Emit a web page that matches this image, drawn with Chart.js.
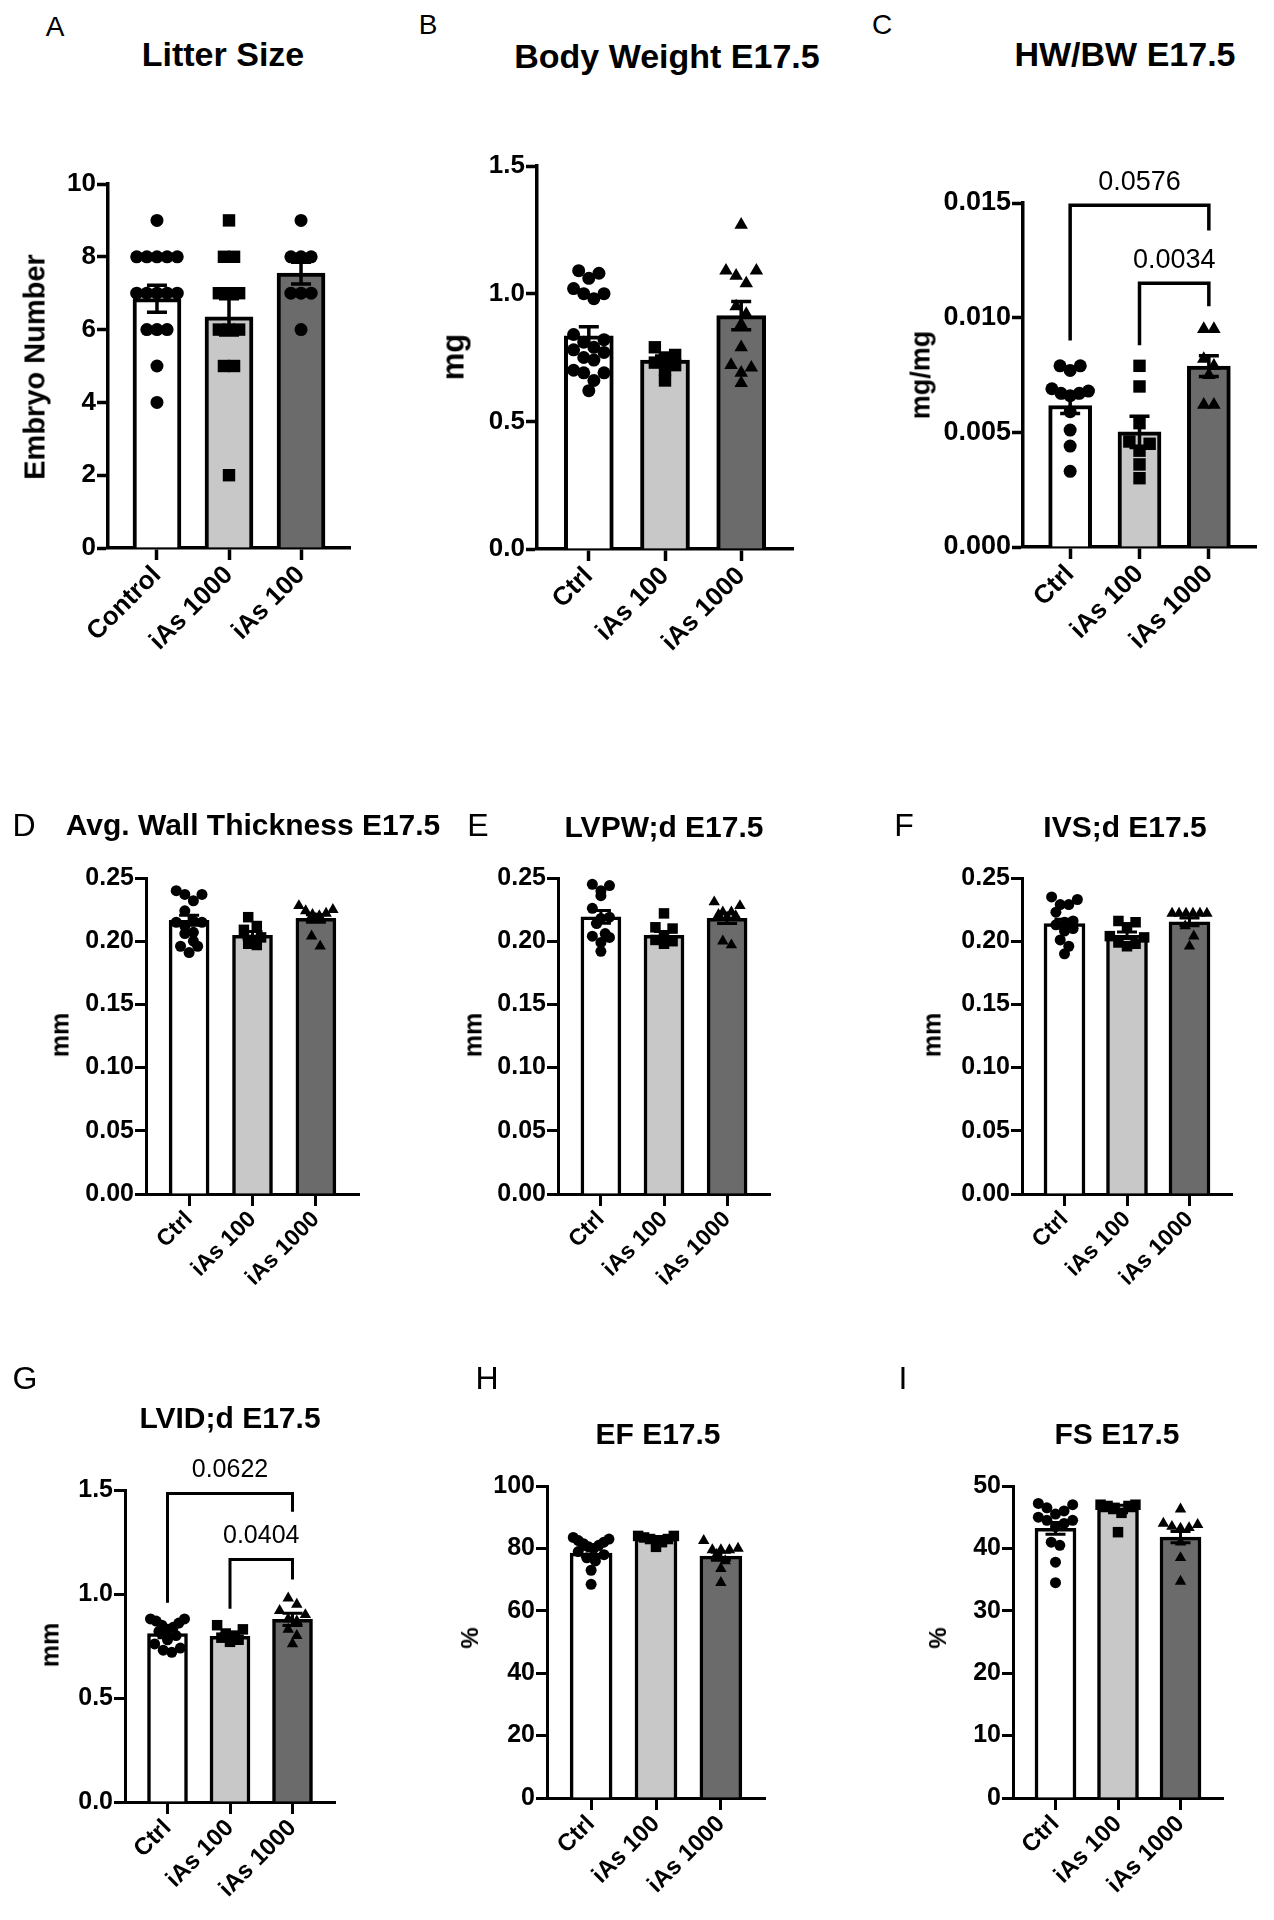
<!DOCTYPE html>
<html>
<head>
<meta charset="utf-8">
<script src="https://cdn.jsdelivr.net/npm/chart.js@4.4.1/dist/chart.umd.min.js"></script>
<style>
  body { margin: 0; background: #fff; }
  #page { position: relative; width: 1274px; height: 1920px; overflow: hidden; background: #fff;
          font-family: "Liberation Sans", Arial, sans-serif; color: #000; }
  canvas { position: absolute; }
  .txt { position: absolute; white-space: nowrap; transform: translate(-50%, -50%); line-height: 1; }
  .title { font-weight: bold; }
  .ylab { font-weight: bold; transform: translate(-50%, -50%) rotate(-90deg); }
</style>
</head>
<body>
<div id="page"></div>
<script>
// group names
const litterGroups = ['Control', 'iAs 1000', 'iAs 100'];
const doseGroups = ['Ctrl', 'iAs 100', 'iAs 1000'];

// A - litter size
const litterTicks = ['0', '2', '4', '6', '8', '10'];
const litterMean = [6.85, 6.35, 7.55];
const litterSem = [0.37, 0.5, 0.3];
const litterCtrl = [9, 8, 8, 8, 8, 8, 7, 7, 7, 7, 7, 6, 6, 6, 5, 4];
const litterIas1000 = [9, 8, 8, 7, 7, 7, 6, 6, 6, 5, 5, 2];
const litterIas100 = [9, 8, 8, 8, 7, 7, 7, 6];

// B - body weight
const bwTicks = ['0.0', '0.5', '1.0', '1.5'];
const bwMean = [0.835, 0.74, 0.914];
const bwSem = [0.035, 0.016, 0.055];
const bwCtrl = [1.09, 1.08, 1.06, 1.02, 1.00, 1.00, 0.98, 0.84, 0.82, 0.81, 0.79, 0.78, 0.77, 0.75, 0.74, 0.70, 0.69, 0.69, 0.66, 0.62];
const bwIas100 = [0.79, 0.76, 0.75, 0.73, 0.72, 0.70, 0.66];
const bwIas1000 = [1.27, 1.09, 1.09, 1.07, 1.04, 0.95, 0.92, 0.88, 0.79, 0.72, 0.71, 0.69, 0.65];

// C - HW/BW
const hwTicks = ['0.000', '0.005', '0.010', '0.015'];
const hwMean = [0.00617, 0.00502, 0.00789];
const hwSem = [0.00035, 0.00068, 0.00045];
const hwCtrl = [0.0079, 0.0079, 0.0077, 0.0069, 0.0068, 0.0067, 0.0067, 0.0066, 0.0059, 0.0051, 0.0044, 0.0033];
const hwIas100 = [0.0079, 0.0070, 0.0054, 0.0046, 0.0045, 0.0042, 0.0036, 0.0030];
const hwIas1000 = [0.0095, 0.0095, 0.0082, 0.0079, 0.0075, 0.0062, 0.0062];
// [from, to, line, left end, right end, label]
const hwBrackets = [[0, 2, 0.0149, 0.0090, 0.0138, '0.0576'], [1, 2, 0.0115, 0.0088, 0.0105, '0.0034']];

// D/E/F - wall thickness
const wallTicks = ['0.00', '0.05', '0.10', '0.15', '0.20', '0.25'];
const awtMean = [0.2166, 0.2047, 0.218];
const awtSem = [0.004, 0.003, 0.003];
const awtCtrl = [0.240, 0.237, 0.237, 0.232, 0.224, 0.216, 0.215, 0.215, 0.212, 0.207, 0.206, 0.200, 0.196, 0.196, 0.191];
const awtIas100 = [0.219, 0.212, 0.209, 0.203, 0.201, 0.198, 0.197];
const awtIas1000 = [0.228, 0.225, 0.224, 0.222, 0.221, 0.220, 0.218, 0.204, 0.196];

const lvpwMean = [0.2192, 0.2047, 0.218];
const lvpwSem = [0.005, 0.003, 0.004];
const lvpwCtrl = [0.245, 0.244, 0.240, 0.236, 0.226, 0.219, 0.218, 0.214, 0.206, 0.204, 0.203, 0.199, 0.192];
const lvpwIas100 = [0.222, 0.211, 0.210, 0.204, 0.201, 0.200, 0.198];
const lvpwIas1000 = [0.231, 0.228, 0.223, 0.223, 0.221, 0.220, 0.219, 0.200, 0.197];

const ivsMean = [0.2139, 0.2047, 0.2153];
const ivsSem = [0.0035, 0.0025, 0.003];
const ivsCtrl = [0.235, 0.233, 0.229, 0.229, 0.223, 0.216, 0.215, 0.213, 0.210, 0.208, 0.201, 0.196, 0.190];
const ivsIas100 = [0.216, 0.215, 0.211, 0.204, 0.203, 0.199, 0.198, 0.196];
const ivsIas1000 = [0.222, 0.222, 0.222, 0.222, 0.222, 0.222, 0.212, 0.204, 0.196];

// G - LVID;d
const lvidTicks = ['0.0', '0.5', '1.0', '1.5'];
const lvidMean = [0.81, 0.797, 0.878];
const lvidSem = [0.02, 0.012, 0.03];
const lvidCtrl = [0.88, 0.88, 0.87, 0.86, 0.85, 0.84, 0.83, 0.82, 0.80, 0.78, 0.76, 0.74, 0.73, 0.72];
const lvidIas100 = [0.85, 0.83, 0.81, 0.80, 0.79, 0.78, 0.77];
const lvidIas1000 = [0.98, 0.95, 0.92, 0.90, 0.88, 0.87, 0.83, 0.80, 0.76];
const lvidBrackets = [[0, 2, 1.483, 0.958, 1.395, '0.0622'], [1, 2, 1.166, 0.929, 1.07, '0.0404']];

// H - EF
const efTicks = ['0', '20', '40', '60', '80', '100'];
const efMean = [78.5, 83.2, 77.5];
const efSem = [1.2, 0.6, 1.3];
const efCtrl = [83.5, 83, 82.5, 82, 81.5, 81, 80.5, 80, 79, 78, 77, 76, 73, 68.5];
const efIas100 = [84, 84, 83.5, 83, 83, 82, 80.5];
const efIas1000 = [82.5, 80, 79.5, 79.5, 79.5, 78, 76, 73.5, 69];

// I - FS
const fsTicks = ['0', '10', '20', '30', '40', '50'];
const fsMean = [43.2, 46.3, 41.8];
const fsSem = [0.95, 0.6, 0.9];
const fsCtrl = [47.2, 47, 46.5, 46, 45.5, 45, 44.5, 44.5, 44, 43.5, 41, 40.5, 37.8, 34.5];
const fsIas100 = [47, 47, 46.8, 46.8, 46.5, 45.7, 42.6];
const fsIas1000 = [46.3, 44, 43.8, 43.5, 43.3, 43.2, 41, 38.5, 34.7];

const barColors = ['#ffffff', '#c8c8c8', '#6b6b6b'];
const doseMarkers = ['circle', 'rect', 'triangle'];

const rowStyle = [
  { title: 34, tick: 26, xtick: 26, letter: 28, line: 3.5, barBorder: 4, r: 6.5, cap: 10, pval: 27 },
  { title: 30, tick: 25, xtick: 23, letter: 32, line: 3, barBorder: 3.5, r: 5.5, cap: 10, pval: 25 },
  { title: 30, tick: 25, xtick: 24, letter: 32, line: 3, barBorder: 3.5, r: 5.5, cap: 10, pval: 25 }
];

const panels = [
  { letter: 'A', title: 'Litter Size', yTitle: 'Embryo Number', labels: litterGroups, ticks: litterTicks,
    means: litterMean, sems: litterSem, points: [litterCtrl, litterIas1000, litterIas100],
    markers: ['circle', 'rect', 'circle'], brackets: [], row: 0,
    ax: 108, ex: 350, ty: 184, by: 548, bar: 48,
    titleAt: [223, 54], letterAt: [55, 27], yTitleAt: [35, 367], yTitleSize: 29 },
  { letter: 'B', title: 'Body Weight E17.5', yTitle: 'mg', labels: doseGroups, ticks: bwTicks,
    means: bwMean, sems: bwSem, points: [bwCtrl, bwIas100, bwIas1000],
    markers: doseMarkers, brackets: [], row: 0,
    ax: 537, ex: 793, ty: 166, by: 549, bar: 49,
    titleAt: [667, 56], letterAt: [428, 25], yTitleAt: [453, 357], yTitleSize: 31 },
  { letter: 'C', title: 'HW/BW E17.5', yTitle: 'mg/mg', labels: doseGroups, ticks: hwTicks,
    means: hwMean, sems: hwSem, points: [hwCtrl, hwIas100, hwIas1000],
    markers: doseMarkers, brackets: hwBrackets, row: 0, tickSize: 27,
    ax: 1023, ex: 1256, ty: 203, by: 547, bar: 43,
    titleAt: [1125, 54], letterAt: [882, 25], yTitleAt: [921, 375], yTitleSize: 27 },
  { letter: 'D', title: 'Avg. Wall Thickness E17.5', yTitle: 'mm', labels: doseGroups, ticks: wallTicks,
    means: awtMean, sems: awtSem, points: [awtCtrl, awtIas100, awtIas1000],
    markers: doseMarkers, brackets: [], row: 1,
    ax: 146, ex: 359, ty: 878, by: 1194, bar: 40,
    titleAt: [253, 825], letterAt: [24, 825], yTitleAt: [60, 1035], yTitleSize: 25 },
  { letter: 'E', title: 'LVPW;d E17.5', yTitle: 'mm', labels: doseGroups, ticks: wallTicks,
    means: lvpwMean, sems: lvpwSem, points: [lvpwCtrl, lvpwIas100, lvpwIas1000],
    markers: doseMarkers, brackets: [], row: 1,
    ax: 558, ex: 770, ty: 878, by: 1194, bar: 40,
    titleAt: [664, 827], letterAt: [478, 825], yTitleAt: [473, 1035], yTitleSize: 25 },
  { letter: 'F', title: 'IVS;d E17.5', yTitle: 'mm', labels: doseGroups, ticks: wallTicks,
    means: ivsMean, sems: ivsSem, points: [ivsCtrl, ivsIas100, ivsIas1000],
    markers: doseMarkers, brackets: [], row: 1,
    ax: 1022, ex: 1232, ty: 878, by: 1194, bar: 41,
    titleAt: [1125, 827], letterAt: [904, 825], yTitleAt: [932, 1035], yTitleSize: 25 },
  { letter: 'G', title: 'LVID;d E17.5', yTitle: 'mm', labels: doseGroups, ticks: lvidTicks,
    means: lvidMean, sems: lvidSem, points: [lvidCtrl, lvidIas100, lvidIas1000],
    markers: doseMarkers, brackets: lvidBrackets, row: 2,
    ax: 125, ex: 335, ty: 1490, by: 1802, bar: 40,
    titleAt: [230, 1418], letterAt: [25, 1378], yTitleAt: [50, 1645], yTitleSize: 25 },
  { letter: 'H', title: 'EF E17.5', yTitle: '%', labels: doseGroups, ticks: efTicks,
    means: efMean, sems: efSem, points: [efCtrl, efIas100, efIas1000],
    markers: doseMarkers, brackets: [], row: 2,
    ax: 547, ex: 765, ty: 1486, by: 1798, bar: 42,
    titleAt: [658, 1434], letterAt: [487, 1378], yTitleAt: [470, 1638], yTitleSize: 24 },
  { letter: 'I', title: 'FS E17.5', yTitle: '%', labels: doseGroups, ticks: fsTicks,
    means: fsMean, sems: fsSem, points: [fsCtrl, fsIas100, fsIas1000],
    markers: doseMarkers, brackets: [], row: 2,
    ax: 1013, ex: 1223, ty: 1486, by: 1798, bar: 41,
    titleAt: [1117, 1434], letterAt: [903, 1378], yTitleAt: [938, 1638], yTitleSize: 24 }
];

const page = document.getElementById('page');
const FONT = '"Liberation Sans", Arial, sans-serif';
Chart.defaults.font.family = FONT;
Chart.defaults.color = '#000';

const X_MIN = -0.68, X_MAX = 2.68;
const PAD_L = 130, PAD_R = 20, PAD_T = 80, PAD_B = 170;

function addText(cls, text, at, size) {
  const d = document.createElement('div');
  d.className = 'txt ' + cls;
  d.textContent = text;
  d.style.left = at[0] + 'px';
  d.style.top = at[1] + 'px';
  d.style.fontSize = size + 'px';
  page.appendChild(d);
}

// scatter-dot layout: points whose y values fall within one marker height share a row,
// each row is spread sideways around the group centre (px offsets).
// slots are filled edge-in (0, n-1, 1, n-2, ...) so rows don't come out as slanted lines
function dotRows(values, pxY, diam, maxSpan) {
  const order = values.map((v, i) => i).sort((a, b) => values[b] - values[a]);
  const offs = new Array(values.length).fill(0);
  let k = 0;
  while (k < order.length) {
    const start = values[order[k]];
    const row = [];
    while (k < order.length && (start - values[order[k]]) * pxY < diam) row.push(order[k++]);
    const n = row.length;
    const gap = n > 1 ? Math.min(diam * 0.78, maxSpan / (n - 1)) : 0;
    row.forEach((idx, j) => {
      const slot = j % 2 ? n - 1 - (j - 1) / 2 : j / 2;
      offs[idx] = (slot - (n - 1) / 2) * gap;
    });
  }
  return offs;
}

function extrasPlugin(p, st) {
  return {
    id: 'extras' + p.letter,
    afterDatasetsDraw(chart) {
      const { ctx, scales: { x, y } } = chart;
      ctx.save();
      ctx.strokeStyle = '#000';
      ctx.lineWidth = st.line;
      ctx.lineCap = 'butt';
      // mean +/- SEM
      p.means.forEach((m, i) => {
        const cx = x.getPixelForValue(i);
        const top = y.getPixelForValue(m + p.sems[i]);
        const bot = y.getPixelForValue(m - p.sems[i]);
        ctx.beginPath();
        ctx.moveTo(cx, top); ctx.lineTo(cx, bot);
        ctx.moveTo(cx - st.cap, top); ctx.lineTo(cx + st.cap, top);
        ctx.moveTo(cx - st.cap, bot); ctx.lineTo(cx + st.cap, bot);
        ctx.stroke();
      });
      // significance brackets
      ctx.fillStyle = '#000';
      ctx.font = st.pval + 'px ' + FONT;
      ctx.textAlign = 'center';
      ctx.textBaseline = 'middle';
      p.brackets.forEach(b => {
        const x0 = x.getPixelForValue(b[0]), x1 = x.getPixelForValue(b[1]);
        const yl = y.getPixelForValue(b[2]);
        ctx.beginPath();
        ctx.moveTo(x0, y.getPixelForValue(b[3]));
        ctx.lineTo(x0, yl);
        ctx.lineTo(x1, yl);
        ctx.lineTo(x1, y.getPixelForValue(b[4]));
        ctx.stroke();
        ctx.fillText(b[5], (x0 + x1) / 2, yl - 23);
      });
      ctx.restore();
    }
  };
}

function drawPanel(p) {
  const st = rowStyle[p.row];
  const w = p.ex - p.ax, h = p.by - p.ty;
  const yMax = parseFloat(p.ticks[p.ticks.length - 1]);
  const pxY = h / yMax, pxX = w / (X_MAX - X_MIN);

  const canvas = document.createElement('canvas');
  canvas.width = PAD_L + w + PAD_R;
  canvas.height = PAD_T + h + PAD_B;
  canvas.style.left = (p.ax - PAD_L) + 'px';
  canvas.style.top = (p.ty - PAD_T) + 'px';
  page.appendChild(canvas);

  const scatterSets = p.points.map((vals, i) => {
    const sizeMul = p.markers[i] === 'rect' ? 1.35 : (p.markers[i] === 'triangle' ? 1.2 : 1);
    const offs = dotRows(vals, pxY, st.r * 2, p.bar * 0.85);
    return {
      type: 'scatter',
      data: vals.map((v, k) => ({ x: i + offs[k] / pxX, y: v })),
      pointStyle: p.markers[i],
      pointRadius: st.r * sizeMul,
      backgroundColor: '#000',
      borderColor: '#000',
      borderWidth: 0,
      order: 1
    };
  });

  new Chart(canvas, {
    type: 'bar',
    data: {
      datasets: [{
        type: 'bar',
        data: p.means.map((m, i) => ({ x: i, y: m })),
        backgroundColor: barColors,
        borderColor: '#000',
        borderWidth: st.barBorder,
        barThickness: p.bar,
        order: 3
      }].concat(scatterSets)
    },
    options: {
      responsive: false,
      animation: false,
      layout: { padding: { left: 0, right: PAD_R, top: PAD_T, bottom: 0 } },
      plugins: { legend: { display: false }, tooltip: { enabled: false } },
      scales: {
        x: {
          type: 'linear',
          offset: false,
          min: X_MIN,
          max: X_MAX,
          afterBuildTicks: s => { s.ticks = [0, 1, 2].map(v => ({ value: v })); },
          afterFit: s => { s.height = PAD_B; },
          ticks: {
            autoSkip: false,
            minRotation: 45,
            maxRotation: 45,
            padding: 0,
            color: '#000',
            font: { size: st.xtick, weight: 'bold' },
            callback: (v, i) => p.labels[i]
          },
          grid: { offset: false, drawOnChartArea: false, tickLength: 12, tickWidth: st.line, tickColor: '#000' },
          border: { display: true, color: '#000', width: st.line }
        },
        y: {
          min: 0,
          max: yMax,
          afterBuildTicks: s => { s.ticks = p.ticks.map(t => ({ value: parseFloat(t) })); },
          afterFit: s => { s.width = PAD_L; },
          ticks: {
            padding: 1,
            color: '#000',
            font: { size: p.tickSize || st.tick, weight: 'bold' },
            callback: (v, i) => p.ticks[i]
          },
          grid: { drawOnChartArea: false, tickLength: 11, tickWidth: st.line, tickColor: '#000' },
          border: { display: true, color: '#000', width: st.line }
        }
      }
    },
    plugins: [extrasPlugin(p, st)]
  });

  addText('title', p.title, p.titleAt, st.title);
  addText('letter', p.letter, p.letterAt, st.letter);
  addText('ylab', p.yTitle, p.yTitleAt, p.yTitleSize);
}

panels.forEach(drawPanel);
</script>
</body>
</html>
